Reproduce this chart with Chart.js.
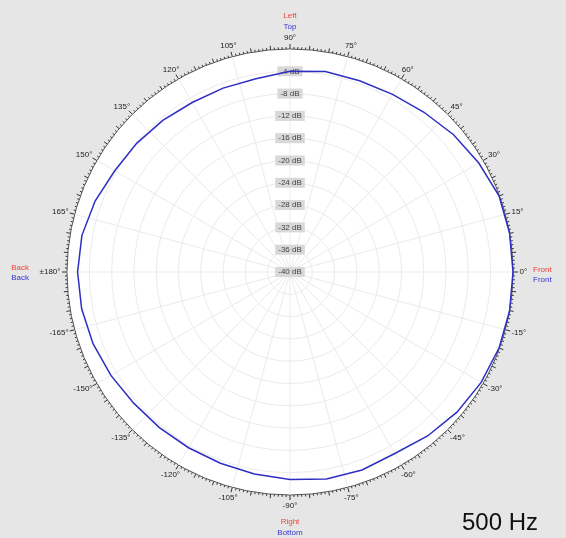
<!DOCTYPE html>
<html>
<head>
<meta charset="utf-8">
<script src="https://cdn.jsdelivr.net/npm/chart.js@4/dist/chart.umd.min.js"></script>
<style>
html,body{margin:0;padding:0;background:#e6e6e6;}
#wrap{position:relative;width:566px;height:538px;}
</style>
</head>
<body>
<div id="wrap"><canvas id="c" width="566" height="538"></canvas></div>
<script>
// Measured directivity (angle in degrees, counter-clockwise from Front = 0°)
const measuredAngles = [90, 80, 70, 60, 50, 40, 30, 20, 10, 0, -10, -20, -30, -40, -50, -60, -70, -80, -90,
  -100, -110, -120, -130, -140, -150, -160, -170, 180, 170, 160, 150, 140, 130, 120, 110, 100];
const measuredDb = [-4.0, -3.5, -3.5, -3.2, -2.6, -1.7, -0.9, -0.1, 0.0, 0.0, 0.0, -0.1, -0.4, -0.9, -1.6, -2.4, -2.2, -2.3, -2.8,
  -3.2, -3.5, -3.6, -3.55, -3.4, -2.9, -2.4, -2.05, -1.9, -2.1, -2.8, -3.7, -4.1, -4.5, -4.9, -4.9, -4.8];
// Radial (level) ticks
const ringTicks = [-40, -36, -32, -28, -24, -20, -16, -12, -8, -4, 0];
// Angle labels every 15°
const angleLabelDegrees = [90, 75, 60, 45, 30, 15, 0, -15, -30, -45, -60, -75, -90, -105, -120, -135, -150, -165, 180, 165, 150, 135, 120, 105];
const angleLabelText = ['90°', '75°', '60°', '45°', '30°', '15°', '0°', '-15°', '-30°', '-45°', '-60°', '-75°', '-90°', '-105°', '-120°', '-135°', '-150°', '-165°', '±180°', '165°', '150°', '135°', '120°', '105°'];
const frequencyLabel = '500 Hz';

// categories every 5°, clockwise from the top (90°)
const categoryStep = 5;
const categories = [];
const seriesData = [];
for (let i = 0; i < 360 / categoryStep; i++) {
  let d = 90 - i * categoryStep;
  if (d <= -180) d += 360;
  categories.push(d);
  const k = measuredAngles.indexOf(d);
  seriesData.push(k >= 0 ? measuredDb[k] : null);
}
const isMajorSpoke = (idx) => (categories[idx] % 15) === 0;

const FONT = 'Liberation Sans, Arial, sans-serif';

const decorPlugin = {
  id: 'decor',
  afterDraw(chart) {
    const s = chart.scales.r;
    const ctx = chart.ctx;
    const cx = s.xCenter, cy = s.yCenter, R = s.drawingArea;
    ctx.save();
    // rim tick marks
    ctx.strokeStyle = '#333';
    ctx.lineWidth = 1;
    for (let d = 0; d < 360; d++) {
      const a = d * Math.PI / 180;
      const len = d % 15 === 0 ? 5 : (d % 5 === 0 ? 4 : 2);
      ctx.beginPath();
      ctx.moveTo(cx + Math.cos(a) * R, cy - Math.sin(a) * R);
      ctx.lineTo(cx + Math.cos(a) * (R + len), cy - Math.sin(a) * (R + len));
      ctx.stroke();
    }
    // angle labels
    ctx.font = '8px ' + FONT;
    ctx.fillStyle = '#222';
    ctx.textAlign = 'center';
    ctx.textBaseline = 'middle';
    const pad = 6.5;
    angleLabelDegrees.forEach((d, i) => {
      const a = d * Math.PI / 180;
      const t = angleLabelText[i];
      const w = ctx.measureText(t).width, h = 9;
      const x = cx + Math.cos(a) * (R + pad) + Math.cos(a) * w / 2;
      const y = cy - Math.sin(a) * (R + pad) - Math.sin(a) * h / 2;
      ctx.fillText(t, x, y);
    });
    // direction names
    const red = '#e8453c', blue = '#3535d0';
    ctx.fillStyle = red; ctx.fillText('Left', cx, cy - R - 33);
    ctx.fillStyle = blue; ctx.fillText('Top', cx, cy - R - 22);
    ctx.fillStyle = red; ctx.fillText('Right', cx, cy + R + 27);
    ctx.fillStyle = blue; ctx.fillText('Bottom', cx, cy + R + 38);
    ctx.textAlign = 'left';
    ctx.fillStyle = red; ctx.fillText('Front', cx + R + 20, cy - 2);
    ctx.fillStyle = blue; ctx.fillText('Front', cx + R + 20, cy + 8);
    ctx.textAlign = 'right';
    ctx.fillStyle = red; ctx.fillText('Back', cx - R - 38, cy - 4);
    ctx.fillStyle = blue; ctx.fillText('Back', cx - R - 38, cy + 6);
    // frequency
    ctx.textAlign = 'left';
    ctx.textBaseline = 'alphabetic';
    ctx.fillStyle = '#111';
    ctx.font = '24px ' + FONT;
    ctx.fillText(frequencyLabel, 462, 530);
    ctx.restore();
  }
};

new Chart(document.getElementById('c'), {
  type: 'radar',
  data: {
    labels: categories,
    datasets: [{
      data: seriesData,
      borderColor: '#2e2ec4',
      borderWidth: 1.5,
      pointRadius: 0,
      fill: false,
      spanGaps: true,
      tension: 0
    }]
  },
  options: {
    responsive: false,
    animation: false,
    layout: { padding: { left: 62, right: 48, top: 44, bottom: 38 } },
    plugins: { legend: { display: false }, tooltip: { enabled: false } },
    scales: {
      r: {
        min: ringTicks[0],
        max: ringTicks[ringTicks.length - 1],
        startAngle: 0,
        backgroundColor: '#ffffff',
        grid: {
          circular: true,
          color: (c) => (c.tick && c.tick.value === 0 ? '#555' : '#ebebeb'),
          lineWidth: 1
        },
        angleLines: {
          display: true,
          color: (c) => (isMajorSpoke(c.index) ? '#ebebeb' : 'rgba(0,0,0,0)'),
          lineWidth: (c) => (isMajorSpoke(c.index) ? 1 : 0)
        },
        pointLabels: { display: false },
        ticks: {
          stepSize: 4,
          callback: (v) => (v === 0 ? '' : v + ' dB'),
          font: { size: 8, family: FONT },
          color: '#444',
          showLabelBackdrop: true,
          backdropColor: (c) => (c.tick && c.tick.value === 0 ? 'rgba(0,0,0,0)' : '#d8d8d8'),
          backdropPadding: { x: 3, y: 1 }
        }
      }
    }
  },
  plugins: [decorPlugin]
});
</script>
</body>
</html>
